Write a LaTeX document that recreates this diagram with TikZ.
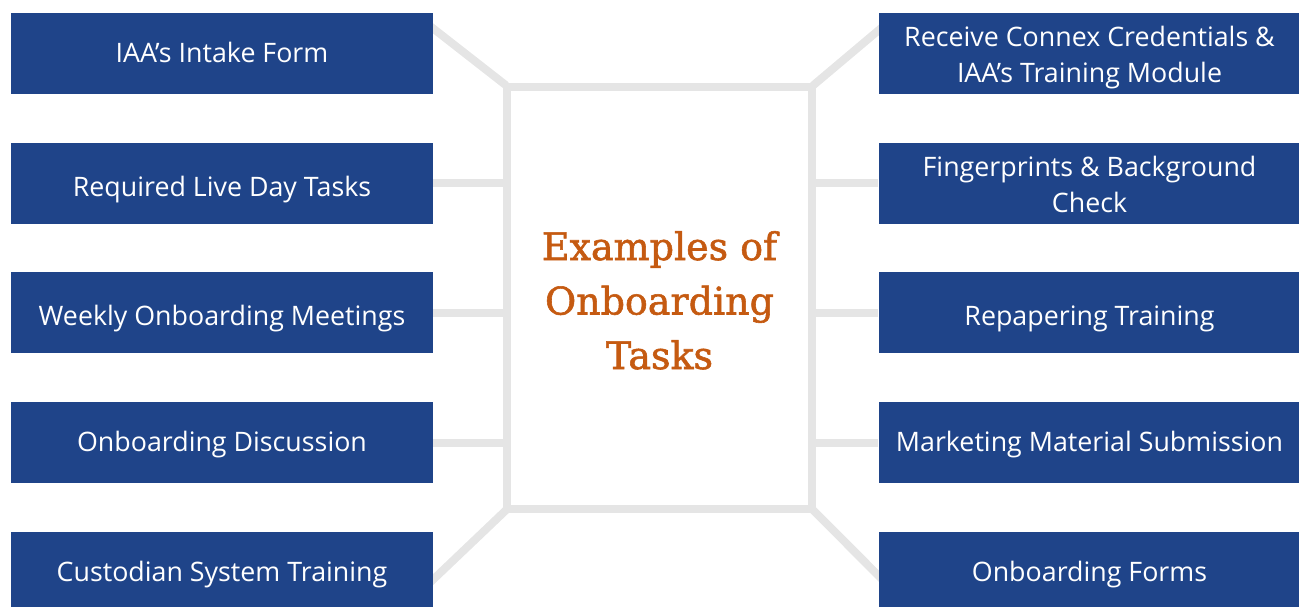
\documentclass[tikz,border=0pt]{standalone}
\usepackage{fontspec}
\usetikzlibrary{backgrounds}
\newfontfamily\boxfont{Open Sans}
\newfontfamily\titlefont[FakeBold=1.5]{DejaVu Serif}
\definecolor{boxblue}{RGB}{31,68,137}
\definecolor{linegray}{RGB}{229,229,229}
\definecolor{titleorange}{RGB}{197,90,17}
\begin{document}
\begin{tikzpicture}[x=1pt,y=-1pt,
  task/.style={fill=boxblue, text=white, minimum width=422pt, minimum height=81pt, inner sep=0pt, align=center,
    text height=20pt, text depth=2.4pt, font=\boxfont\fontsize{26.8}{36}\selectfont},
  lowtext/.style={text height=26pt, text depth=0pt},
  twoline/.style={text height=#1, text depth=6pt},
  conn/.style={draw=linegray, line width=8pt},
  hub/.style={draw=linegray, line width=8pt, minimum width=305pt, minimum height=422pt, inner sep=0pt},
  title/.style={align=center, text=titleorange, inner sep=0pt, font=\titlefont\fontsize{38}{54.5}\selectfont}]
\useasboundingbox (0,0) rectangle (1299,607);
\node[hub] (C) at (659.5,298) {};
\node[title, anchor=base] (T) at ([yshift=-71pt]C.center) {Examples of\\Onboarding\\Tasks};
\node[task] (L1) at (222,53.5) {IAA’s Intake Form};
\node[task, lowtext] (L2) at (222,183.5) {Required Live Day Tasks};
\node[task, lowtext] (L3) at (222,312.5) {Weekly Onboarding Meetings};
\node[task] (L4) at (222,442.5) {Onboarding Discussion};
\node[task] (L5) at (222,572.5) {Custodian System Training};
\node[task, twoline=65pt] (R1) at (1089.5,53.5) {Receive Connex Credentials \&\\IAA’s Training Module};
\node[task, twoline=63pt] (R2) at (1089.5,183.5) {Fingerprints \& Background\\Check};
\node[task, lowtext] (R3) at (1089.5,312.5) {Repapering Training};
\node[task] (R4) at (1089.5,442.5) {Marketing Material Submission};
\node[task] (R5) at (1089.5,572.5) {Onboarding Forms};
\begin{scope}[on background layer]
\draw[conn, shorten <=-15pt, shorten >=-4pt] ([yshift=25pt]L1.east) -- (C.north west);
\draw[conn, shorten <=-15pt, shorten >=-4pt] ([yshift=23pt]R1.west) -- (C.north east);
\draw[conn, shorten <=-15pt, shorten >=-4pt] ([yshift=-7pt]L5.east) -- (C.south west);
\draw[conn, shorten <=-15pt, shorten >=-4pt] ([yshift=-3pt]R5.west) -- (C.south east);
\foreach \i in {2,3,4} {
  \draw[conn] (L\i.east) -- (L\i.east -| C.west);
  \draw[conn] (R\i.west) -- (R\i.west -| C.east);
}
\end{scope}
\end{tikzpicture}
\end{document}
